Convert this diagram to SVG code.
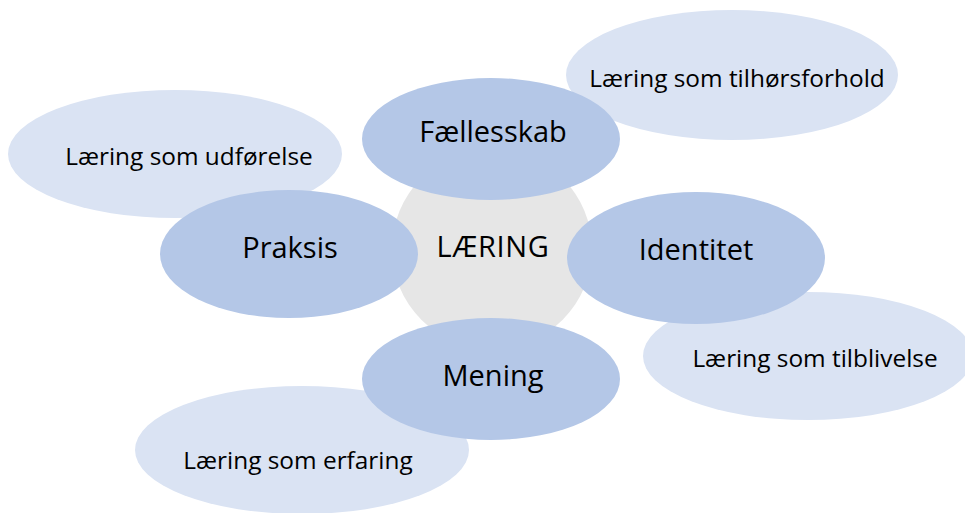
<svg xmlns="http://www.w3.org/2000/svg" width="965" height="513" viewBox="0 0 965 513">
<style>
.outer{fill:#DAE3F3}
.inner{fill:#B4C7E7}
.core{fill:#E6E6E6}
text{font-family:"Open Sans",Lato,sans-serif;fill:#000;text-anchor:middle;dominant-baseline:central}
.s{font-size:24.4px}
.m{font-size:29px}
.c{font-size:29px;letter-spacing:0.6px}
</style>
<rect width="965" height="513" fill="#fff"/>
<g id="outer-tilhoersforhold"><ellipse class="outer" cx="732" cy="75" rx="166" ry="65"/><text class="s" x="737" y="77">Læring som tilhørsforhold</text></g>
<g id="outer-udfoerelse"><ellipse class="outer" cx="175" cy="154" rx="167" ry="64"/><text class="s" x="189" y="155">Læring som udførelse</text></g>
<g id="outer-tilblivelse"><ellipse class="outer" cx="808" cy="356" rx="165" ry="64"/><text class="s" x="815" y="357">Læring som tilblivelse</text></g>
<g id="outer-erfaring"><ellipse class="outer" cx="302" cy="450" rx="167" ry="64"/><text class="s" x="298" y="459">Læring som erfaring</text></g>
<g id="laering"><circle class="core" cx="492" cy="249" r="100"/><text class="c" x="493" y="245">LÆRING</text></g>
<g id="faellesskab"><ellipse class="inner" cx="491" cy="139" rx="129" ry="61"/><text class="m" x="493" y="130">Fællesskab</text></g>
<g id="praksis"><ellipse class="inner" cx="289" cy="254" rx="129" ry="64"/><text class="m" x="290" y="246">Praksis</text></g>
<g id="identitet"><ellipse class="inner" cx="696" cy="258" rx="129" ry="66"/><text class="m" x="696" y="248">Identitet</text></g>
<g id="mening"><ellipse class="inner" cx="491" cy="379" rx="129" ry="61"/><text class="m" x="493" y="374">Mening</text></g>
<g id="connectors"></g>
</svg>
